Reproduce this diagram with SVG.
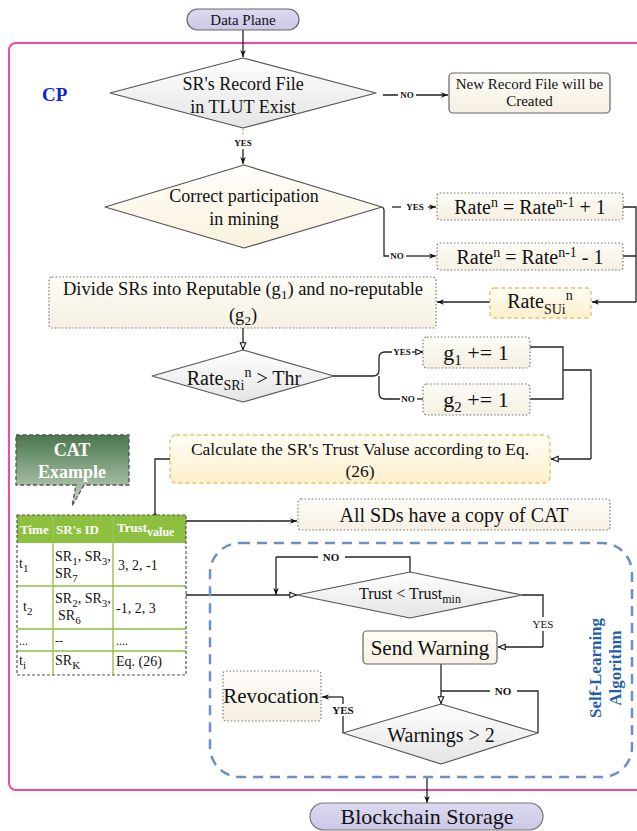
<svg xmlns="http://www.w3.org/2000/svg" width="637" height="831" viewBox="0 0 637 831">
<defs>
<style>
text{font-family:"Liberation Serif","Times New Roman",serif;fill:#111}
.c{text-anchor:middle}
.lbl{font-size:9px;font-weight:bold}
.ln{fill:none;stroke:#222;stroke-width:1.3}
.dia{stroke:#555;stroke-width:1.2;stroke-linejoin:round}
.dot{stroke:#777;stroke-width:1.2;stroke-dasharray:1.5 2}
.gold{stroke:#e5c26a;stroke-width:1.4;stroke-dasharray:4 3}
.box{stroke:#666;stroke-width:1.2}
.wh{fill:#fff}
</style>
<linearGradient id="gGray" x1="0" y1="0" x2="0" y2="1"><stop offset="0" stop-color="#ffffff"/><stop offset="1" stop-color="#e4e4e4"/></linearGradient>
<linearGradient id="gCream" x1="0" y1="0" x2="0" y2="1"><stop offset="0" stop-color="#fffefa"/><stop offset="1" stop-color="#f8f1dc"/></linearGradient>
<linearGradient id="gBox" x1="0" y1="0" x2="0" y2="1"><stop offset="0" stop-color="#fdfcf7"/><stop offset="1" stop-color="#f5f0e2"/></linearGradient>
<linearGradient id="gYel" x1="0" y1="0" x2="0" y2="1"><stop offset="0" stop-color="#fffdf6"/><stop offset="1" stop-color="#fdefcc"/></linearGradient>
<linearGradient id="gGreen" x1="0" y1="0" x2="0" y2="1"><stop offset="0" stop-color="#4b774b"/><stop offset="1" stop-color="#c9d8c6"/></linearGradient>
<linearGradient id="gPill" x1="0" y1="0" x2="0" y2="1"><stop offset="0" stop-color="#dcdaf0"/><stop offset="1" stop-color="#cbc8e6"/></linearGradient>
<marker id="af" viewBox="0 0 10 10" refX="10" refY="5" markerWidth="7" markerHeight="7" orient="auto" markerUnits="userSpaceOnUse"><path d="M0,1 L10,5 L0,9 L3,5 Z" fill="#111"/></marker>
<marker id="ao" viewBox="0 0 10 10" refX="10" refY="5" markerWidth="8" markerHeight="8" orient="auto" markerUnits="userSpaceOnUse"><path d="M1,1.5 L9,5 L1,8.5 Z" fill="#fff" stroke="#111" stroke-width="1.3"/></marker>
</defs>

<!-- control plane border -->
<rect id="cp-border" x="9" y="43" width="640" height="747" rx="7" fill="none" stroke="#f5479f" stroke-width="2"/>
<text x="42" y="101" font-size="19" font-weight="bold" style="fill:#1226cf">CP</text>

<!-- connectors -->
<g id="connectors">
<line class="ln" x1="243" y1="30" x2="243" y2="57" marker-end="url(#af)"/>
<path class="ln" d="M383,95 H398 M416,95 H448" marker-end="url(#af)"/>
<line x1="243" y1="129" x2="243" y2="136" stroke="#999" stroke-width="1" stroke-dasharray="2 1.5"/>
<line class="ln" x1="243" y1="149" x2="243" y2="164" stroke-width="1" marker-end="url(#af)"/>
<path class="ln" d="M392,207 H401" />
<line class="ln" x1="428" y1="207" x2="436" y2="207" marker-end="url(#af)"/>
<path class="ln" d="M382,207 Q384,208 384,210 V256 H389"/>
<line class="ln" x1="406" y1="256" x2="436" y2="256" marker-end="url(#af)"/>
<path class="ln" d="M623,207 H636 V302 M623,256 H636"/>
<line class="ln" x1="636" y1="302" x2="592" y2="302" marker-end="url(#af)"/>
<line class="ln" x1="490" y1="302" x2="437" y2="302" marker-end="url(#af)"/>
<line class="ln" x1="243" y1="328" x2="243" y2="350" marker-end="url(#ao)"/>
<path class="ln" d="M333,376 H373 Q379,376 379,370 V358 Q379,352 385,352 H392"/>
<path class="ln" d="M379,376 V393 Q379,399 385,399 H400"/>
<line class="ln" x1="412" y1="352" x2="423" y2="352" marker-end="url(#ao)"/>
<line class="ln" x1="417" y1="399" x2="423" y2="399"/>
<path class="ln" d="M530,347 H563 V399 H530 M563,370 H591 V459"/>
<line class="ln" x1="591" y1="459" x2="551" y2="459" marker-end="url(#ao)"/>
<path class="ln" d="M155,515 V459 H170"/>
<circle cx="155" cy="515" r="1.8" fill="#222"/>
<line class="ln" x1="186" y1="521" x2="297" y2="521" marker-end="url(#af)"/>
<line class="ln" x1="186" y1="595" x2="297" y2="595" marker-end="url(#ao)"/>
<path class="ln" d="M410,572 V557 H345 M318,557 H276"/>
<line class="ln" x1="276" y1="557" x2="276" y2="595" marker-end="url(#af)"/>
<path class="ln" d="M522,595 H543 V617 M543,631 V647"/>
<line class="ln" x1="543" y1="647" x2="498" y2="647" marker-end="url(#ao)"/>
<line class="ln" x1="441" y1="664" x2="441" y2="704" marker-end="url(#ao)"/>
<path class="ln" d="M538,733 V691 H517 M490,691 H441"/>
<path class="ln" d="M343,733 V716 M343,704 V697"/>
<line class="ln" x1="343" y1="697" x2="322" y2="697" marker-end="url(#af)"/>
<line class="ln" x1="427" y1="778" x2="427" y2="803" stroke-width="1" marker-end="url(#af)"/>
<text class="lbl c" x="407" y="98">NO</text>
<text class="lbl c" x="243" y="146">YES</text>
<text class="lbl c" x="415" y="210">YES</text>
<text class="lbl c" x="397" y="259">NO</text>
<text class="lbl c" x="402" y="355">YES</text>
<text class="lbl c" x="408" y="402">NO</text>
<text class="c" x="331" y="561" font-size="11" font-weight="bold">NO</text>
<text class="c" x="543" y="628" font-size="11">YES</text>
<text class="c" x="503" y="695" font-size="11" font-weight="bold">NO</text>
<text class="c" x="343" y="714" font-size="11" font-weight="bold">YES</text>
</g>

<!-- Data Plane -->
<g id="data-plane">
<rect x="187" y="9" width="112" height="21" rx="10.5" fill="url(#gPill)" stroke="#666" stroke-width="1.2"/>
<text class="c" x="243" y="25" font-size="15">Data Plane</text>
</g>

<g id="record-exist">
<polygon class="dia" points="110,93 243,58 376,93 243,128" fill="url(#gGray)"/>
<text class="c" x="243" y="90" font-size="18">SR's Record File</text>
<text class="c" x="243" y="113" font-size="18">in TLUT Exist</text>
</g>

<g id="new-record">
<rect class="box" x="449" y="73" width="161" height="40" rx="4" fill="url(#gBox)"/>
<text class="c" x="529.5" y="89" font-size="15">New Record File will be</text>
<text class="c" x="529.5" y="106" font-size="15">Created</text>
</g>

<g id="correct-participation">
<polygon class="dia" points="105,207 244,165 382,207 244,248" fill="url(#gCream)"/>
<text class="c" x="244" y="202" font-size="18">Correct participation</text>
<text class="c" x="244" y="225" font-size="18">in mining</text>
</g>

<g id="rate-plus">
<rect class="dot" x="437" y="193" width="186" height="27" rx="3" fill="url(#gBox)"/>
<text class="c" x="530" y="214" font-size="20">Rate<tspan dy="-7" font-size="14">n</tspan><tspan dy="7"> = Rate</tspan><tspan dy="-7" font-size="14">n-1</tspan><tspan dy="7"> + 1</tspan></text>
</g>

<g id="rate-minus">
<rect class="dot" x="437" y="243" width="186" height="27" rx="3" fill="url(#gBox)"/>
<text class="c" x="530" y="264" font-size="20">Rate<tspan dy="-7" font-size="14">n</tspan><tspan dy="7"> = Rate</tspan><tspan dy="-7" font-size="14">n-1</tspan><tspan dy="7"> - 1</tspan></text>
</g>

<g id="rate-sui">
<rect class="gold" x="490" y="288" width="101" height="30" rx="4" fill="url(#gYel)"/>
<text class="c" x="540" y="308" font-size="20">Rate<tspan dy="6" font-size="14">SUi</tspan><tspan dy="-14" font-size="14">n</tspan></text>
</g>

<g id="divide">
<rect class="dot" x="49" y="277" width="387" height="51" rx="3" fill="url(#gBox)"/>
<text class="c" x="243" y="295" font-size="18.5">Divide SRs into Reputable (g<tspan dy="4" font-size="13">1</tspan><tspan dy="-4">) and no-reputable</tspan></text>
<text class="c" x="243" y="321" font-size="18.5">(g<tspan dy="4" font-size="13">2</tspan><tspan dy="-4">)</tspan></text>
</g>

<g id="threshold">
<polygon class="dia" points="152,376 243,350 334,376 243,402" fill="url(#gGray)"/>
<text class="c" x="244" y="385" font-size="20">Rate<tspan dy="5" font-size="14">SRi</tspan><tspan dy="-13" font-size="14">n</tspan><tspan dy="8"> &gt; Thr</tspan></text>
</g>

<g id="g1">
<rect class="dot" x="423" y="337" width="107" height="31" rx="4" fill="url(#gBox)"/>
<text class="c" x="476" y="360" font-size="22">g<tspan dy="5" font-size="15">1</tspan><tspan dy="-5"> += 1</tspan></text>
</g>
<g id="g2">
<rect class="dot" x="423" y="384" width="107" height="31" rx="4" fill="url(#gBox)"/>
<text class="c" x="476" y="407" font-size="22">g<tspan dy="5" font-size="15">2</tspan><tspan dy="-5"> += 1</tspan></text>
</g>

<g id="calculate">
<rect class="gold" x="170" y="435" width="380" height="48" rx="6" fill="url(#gYel)"/>
<text class="c" x="360" y="455" font-size="17.5">Calculate the SR's Trust Valuse according to Eq.</text>
<text class="c" x="360" y="477" font-size="17.5">(26)</text>
</g>

<g id="cat-example">
<path d="M16,435 H129 V485 H84 L72,506 L76,485 H16 Z" fill="url(#gGreen)" stroke="#555" stroke-width="1.3" stroke-dasharray="4 2.5"/>
<text class="c wh" x="72" y="456" font-size="18" font-weight="bold" style="fill:#fff">CAT</text>
<text class="c wh" x="72" y="478" font-size="18" font-weight="bold" style="fill:#fff">Example</text>
</g>

<g id="cat-table">
<rect x="17" y="515" width="169" height="28" fill="#8dc03f"/>
<rect x="17" y="543" width="169" height="132" fill="#fff"/>
<g stroke="#8dc03f" stroke-width="1.3">
<line x1="17" y1="586" x2="186" y2="586"/>
<line x1="17" y1="629" x2="186" y2="629"/>
<line x1="17" y1="651" x2="186" y2="651"/>
<line x1="53" y1="543" x2="53" y2="675"/>
<line x1="113" y1="543" x2="113" y2="675"/>
</g>
<g stroke="#9bc85a" stroke-width="1"><line x1="53" y1="515" x2="53" y2="543"/><line x1="113" y1="515" x2="113" y2="543"/></g>
<rect x="17" y="515" width="169" height="160" fill="none" stroke="#555" stroke-width="1.2" stroke-dasharray="3 2"/>
<text x="20" y="534" font-size="13" font-weight="bold" style="fill:#fff">Time</text>
<text x="56" y="534" font-size="13" font-weight="bold" style="fill:#fff">SR's ID</text>
<text x="117" y="532" font-size="13" font-weight="bold" style="fill:#fff">Trust<tspan dy="4" font-size="12">value</tspan></text>
<text x="19" y="568" font-size="14">t<tspan dy="4" font-size="11">1</tspan></text>
<text x="55" y="561" font-size="14">SR<tspan dy="4" font-size="11">1</tspan><tspan dy="-4">, SR</tspan><tspan dy="4" font-size="11">3</tspan><tspan dy="-4">,</tspan></text>
<text x="55" y="578" font-size="14">SR<tspan dy="4" font-size="11">7</tspan></text>
<text x="118" y="570" font-size="14">3, 2, -1</text>
<text x="23" y="611" font-size="14">t<tspan dy="4" font-size="11">2</tspan></text>
<text x="55" y="603" font-size="14">SR<tspan dy="4" font-size="11">2</tspan><tspan dy="-4">, SR</tspan><tspan dy="4" font-size="11">3</tspan><tspan dy="-4">,</tspan></text>
<text x="58" y="620" font-size="14">SR<tspan dy="4" font-size="11">6</tspan></text>
<text x="116" y="613" font-size="14">-1, 2, 3</text>
<text x="19" y="645" font-size="12">...</text>
<text x="55" y="645" font-size="12">--</text>
<text x="116" y="645" font-size="12">....</text>
<text x="19" y="665" font-size="14">t<tspan dy="4" font-size="11">i</tspan></text>
<text x="55" y="665" font-size="14">SR<tspan dy="4" font-size="11">K</tspan></text>
<text x="116" y="666" font-size="14">Eq. (26)</text>
</g>

<g id="all-sds">
<rect class="dot" x="298" y="499" width="312" height="31" rx="3" fill="url(#gBox)"/>
<text class="c" x="454" y="522" font-size="20">All SDs have a copy of CAT</text>
</g>

<g id="self-learning">
<rect x="210" y="543" width="422" height="234" rx="30" fill="none" stroke="#6b8fc9" stroke-width="2.5" stroke-dasharray="10 7"/>
<text class="c" transform="translate(601,668) rotate(-90)" font-size="17" font-weight="bold" style="fill:#1f5fae">Self-Learning</text>
<text class="c" transform="translate(621,668) rotate(-90)" font-size="17" font-weight="bold" style="fill:#1f5fae">Algorithm</text>
</g>

<g id="trust-min">
<polygon class="dia" points="297,595 410,572 522,595 410,618" fill="url(#gGray)"/>
<text class="c" x="410" y="599" font-size="16">Trust &lt; Trust<tspan dy="4" font-size="12">min</tspan></text>
</g>

<g id="send-warning">
<rect class="box" x="363" y="631" width="134" height="33" rx="4" fill="url(#gBox)"/>
<text class="c" x="430" y="655" font-size="21">Send Warning</text>
</g>

<g id="warnings">
<polygon class="dia" points="343,733 441,704 538,733 441,764" fill="url(#gGray)"/>
<text class="c" x="441" y="742" font-size="20">Warnings &gt; 2</text>
</g>

<g id="revocation">
<rect class="dot" x="223" y="671" width="98" height="50" rx="3" fill="url(#gBox)"/>
<text class="c" x="271" y="703" font-size="21">Revocation</text>
</g>

<g id="blockchain">
<rect x="310" y="803" width="233" height="27" rx="13.5" fill="url(#gPill)" stroke="#777" stroke-width="1.2"/>
<text class="c" x="427" y="824" font-size="22">Blockchain Storage</text>
</g>
</svg>
